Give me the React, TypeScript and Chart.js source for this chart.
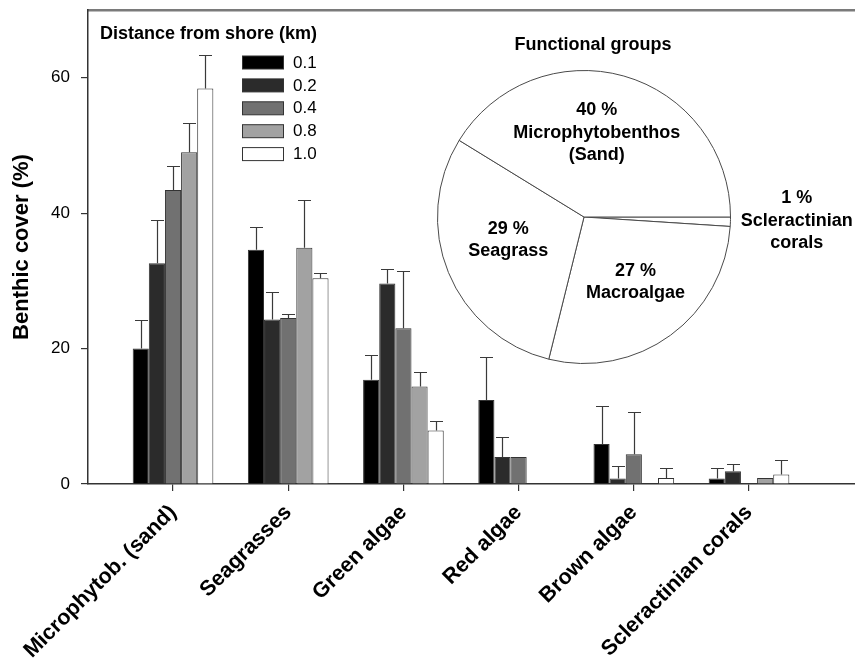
import React, { useEffect, useRef } from "react";
import { Chart, registerables } from "chart.js";

Chart.register(...registerables);

// ---------- data ----------
const categories = [
  "Microphytob. (sand)",
  "Seagrasses",
  "Green algae",
  "Red algae",
  "Brown algae",
  "Scleractinian corals",
];

const distanceLabels = ["0.1", "0.2", "0.4", "0.8", "1.0"];

const cover01 = [20.0, 34.6, 15.4, 12.4, 5.9, 0.8];
const cover02 = [32.6, 24.3, 29.6, 4.0, 0.8, 1.9];
const cover04 = [43.4, 24.5, 23.0, 4.0, 4.4, null];
const cover08 = [49.0, 34.9, 14.4, null, null, 0.9];
const cover10 = [58.4, 30.4, 7.9, null, 0.9, 1.4];

const err01 = [4.2, 3.4, 3.6, 6.3, 5.6, 1.5];
const err02 = [6.4, 4.0, 2.1, 3.0, 1.9, 1.0];
const err04 = [3.6, 0.6, 8.4, null, 6.3, null];
const err08 = [4.3, 7.0, 2.2, null, null, null];
const err10 = [5.0, 0.7, 1.4, null, 1.4, 2.1];

const yTickValues = [0, 20, 40, 60];

const pieGroups = ["Scleractinian corals", "Macroalgae", "Seagrass", "Microphytobenthos (Sand)"];
const piePercents = [1, 27, 29, 40];
const pieLabelLines = [
  ["1 %", "Scleractinian", "corals"],
  ["27 %", "Macroalgae"],
  ["29 %", "Seagrass"],
  ["40 %", "Microphytobenthos", "(Sand)"],
];

// ---------- styles ----------
const FONT = "'Liberation Sans', Arial, Helvetica, sans-serif";
const seriesColors = ["#000000", "#2b2b2b", "#717171", "#a2a2a2", "#ffffff"];
const seriesValues = [cover01, cover02, cover04, cover08, cover10];
const seriesErrors = [err01, err02, err04, err08, err10];

// label placement for pie: [radius factor, angle shift (deg)]
const pieLabelPlace = [
  [1.452, -0.8],
  [0.565, -2.3],
  [0.54, 5.4],
  [0.58, -7.2],
];

const errorBarsPlugin = {
  id: "errorBars",
  afterDatasetsDraw(chart: any) {
    const ctx = chart.ctx;
    const ys = chart.scales.y;
    ctx.save();
    ctx.strokeStyle = "#3a3a3a";
    ctx.lineWidth = 1.2;
    chart.data.datasets.forEach((ds: any, i: number) => {
      const meta = chart.getDatasetMeta(i);
      meta.data.forEach((el: any, j: number) => {
        const v = ds.data[j].y;
        const e = ds.errors[j];
        if (v == null || e == null) return;
        const y0 = ys.getPixelForValue(v);
        const y1 = ys.getPixelForValue(v + e);
        const x = Math.round(el.x) + 0.5;
        ctx.beginPath();
        ctx.moveTo(x, y0);
        ctx.lineTo(x, Math.round(y1) + 0.5);
        ctx.moveTo(x - 6.5, Math.round(y1) + 0.5);
        ctx.lineTo(x + 6.5, Math.round(y1) + 0.5);
        ctx.stroke();
      });
    });
    ctx.restore();
  },
};

const legendPlugin = {
  id: "customLegend",
  afterDraw(chart: any) {
    const ctx = chart.ctx;
    const left = chart.chartArea.left;
    ctx.save();
    ctx.fillStyle = "#000";
    ctx.textBaseline = "middle";
    ctx.textAlign = "left";
    ctx.font = `bold 18px ${FONT}`;
    ctx.fillText("Distance from shore (km)", left + 12, 34.5);
    ctx.font = `17px ${FONT}`;
    chart.data.datasets.forEach((ds: any, i: number) => {
      const cy = 62.5 + i * 22.9;
      ctx.fillStyle = ds.backgroundColor;
      ctx.fillRect(left + 154, cy - 6.5, 42, 13);
      ctx.strokeStyle = "#333";
      ctx.lineWidth = 1;
      ctx.strokeRect(left + 154.5, cy - 6.5, 41, 13);
      ctx.fillStyle = "#000";
      ctx.fillText(ds.label, left + 205, cy + 0.5);
    });
    ctx.restore();
  },
};

const pieLabelsPlugin = {
  id: "pieLabels",
  afterDraw(chart: any) {
    const ctx = chart.ctx;
    const meta = chart.getDatasetMeta(0);
    const first = meta.data[0];
    ctx.save();
    ctx.fillStyle = "#000";
    ctx.textAlign = "center";
    ctx.textBaseline = "middle";
    ctx.font = `bold 18px ${FONT}`;
    ctx.fillText("Functional groups", first.x + 9, first.y - first.outerRadius - 25);
    meta.data.forEach((el: any, i: number) => {
      const [rf, shift] = pieLabelPlace[i];
      const mid = (el.startAngle + el.endAngle) / 2 + (shift * Math.PI) / 180;
      const r = el.outerRadius * rf;
      const cx = el.x + Math.cos(mid) * r;
      const cy = el.y + Math.sin(mid) * r;
      const lines = pieLabelLines[i];
      const lh = 22.5;
      lines.forEach((t, k) => {
        ctx.fillText(t, cx, cy + (k - (lines.length - 1) / 2) * lh);
      });
    });
    ctx.restore();
  },
};

export default function App() {
  const barRef = useRef<HTMLCanvasElement>(null);
  const pieRef = useRef<HTMLCanvasElement>(null);

  useEffect(() => {
    const datasets = distanceLabels.map((lab, i) => ({
      label: lab,
      data: categories.map((_, j) => ({ x: j, y: seriesValues[i][j] })),
      errors: seriesErrors[i],
      backgroundColor: seriesColors[i],
      borderColor: "#333333",
      borderWidth: 1,
      borderSkipped: "bottom",
      categoryPercentage: 0.7,
      barPercentage: 1.0,
    }));

    const bar = new Chart(barRef.current!, {
      type: "bar",
      data: { datasets } as any,
      options: {
        responsive: false,
        animation: false,
        devicePixelRatio: 1,
        layout: { padding: { top: 10, left: 0, right: 0, bottom: 0 } },
        plugins: { legend: { display: false }, tooltip: { enabled: false } },
        scales: {
          x: {
            type: "linear",
            position: "bottom",
            min: -0.738,
            max: 5.92,
            offset: false,
            afterBuildTicks: (s: any) => {
              s.ticks = categories.map((_, i) => ({ value: i }));
            },
            afterFit: (s: any) => {
              s.height = 175;
              s.paddingLeft = 0;
              s.paddingRight = 0;
            },
            grid: {
              display: true,
              offset: false,
              drawOnChartArea: false,
              drawTicks: true,
              tickLength: 7,
              color: "#333",
              lineWidth: 1.2,
            },
            border: { display: true, color: "#333", width: 1.5 },
            ticks: {
              autoSkip: false,
              minRotation: 45,
              maxRotation: 45,
              padding: 9,
              color: "#000",
              font: { family: FONT, size: 21.5, weight: "bold" },
              callback: (v: any) => categories[v] ?? "",
            },
          },
          xTop: {
            type: "linear",
            position: "top",
            min: 0,
            max: 1,
            ticks: { display: false },
            grid: { display: true, drawOnChartArea: false, drawTicks: false },
            border: { display: true, color: "#7a7a7a", width: 2.5 },
            afterFit: (s: any) => {
              s.height = 0;
            },
          },
          y: {
            type: "linear",
            position: "left",
            min: 0,
            max: 70,
            afterBuildTicks: (s: any) => {
              s.ticks = yTickValues.map((v) => ({ value: v }));
            },
            afterFit: (s: any) => {
              s.width = 88;
              s.paddingTop = 0;
              s.paddingBottom = 0;
            },
            grid: { drawOnChartArea: false, drawTicks: true, tickLength: 7, color: "#333", lineWidth: 1.2 },
            border: { display: true, color: "#333", width: 1.5 },
            ticks: { padding: 11, color: "#000", font: { family: FONT, size: 17 } },
            title: {
              display: true,
              text: "Benthic cover (%)",
              color: "#000",
              font: { family: FONT, size: 22, weight: "bold" },
              padding: { top: 9, bottom: 0 },
            },
          },
        },
      } as any,
      plugins: [errorBarsPlugin, legendPlugin],
    });

    const pie = new Chart(pieRef.current!, {
      type: "pie",
      data: {
        labels: pieGroups,
        datasets: [
          {
            data: piePercents,
            backgroundColor: "#ffffff",
            borderColor: "#4a4a4a",
            borderWidth: 1,
            hoverOffset: 0,
          },
        ],
      },
      options: {
        responsive: false,
        animation: false,
        devicePixelRatio: 1,
        rotation: 90,
        layout: { padding: { left: 7, top: 45, right: 124, bottom: 6 } },
        plugins: { legend: { display: false }, tooltip: { enabled: false } },
      } as any,
      plugins: [pieLabelsPlugin],
    });

    return () => {
      bar.destroy();
      pie.destroy();
    };
  }, []);

  return (
    <div style={{ position: "absolute", left: 0, top: 0, width: 855, height: 659, background: "#fff" }}>
      <canvas ref={barRef} width={855} height={659} style={{ position: "absolute", left: 0, top: 0 }} />
      <canvas ref={pieRef} width={425} height={345} style={{ position: "absolute", left: 430, top: 25 }} />
    </div>
  );
}
